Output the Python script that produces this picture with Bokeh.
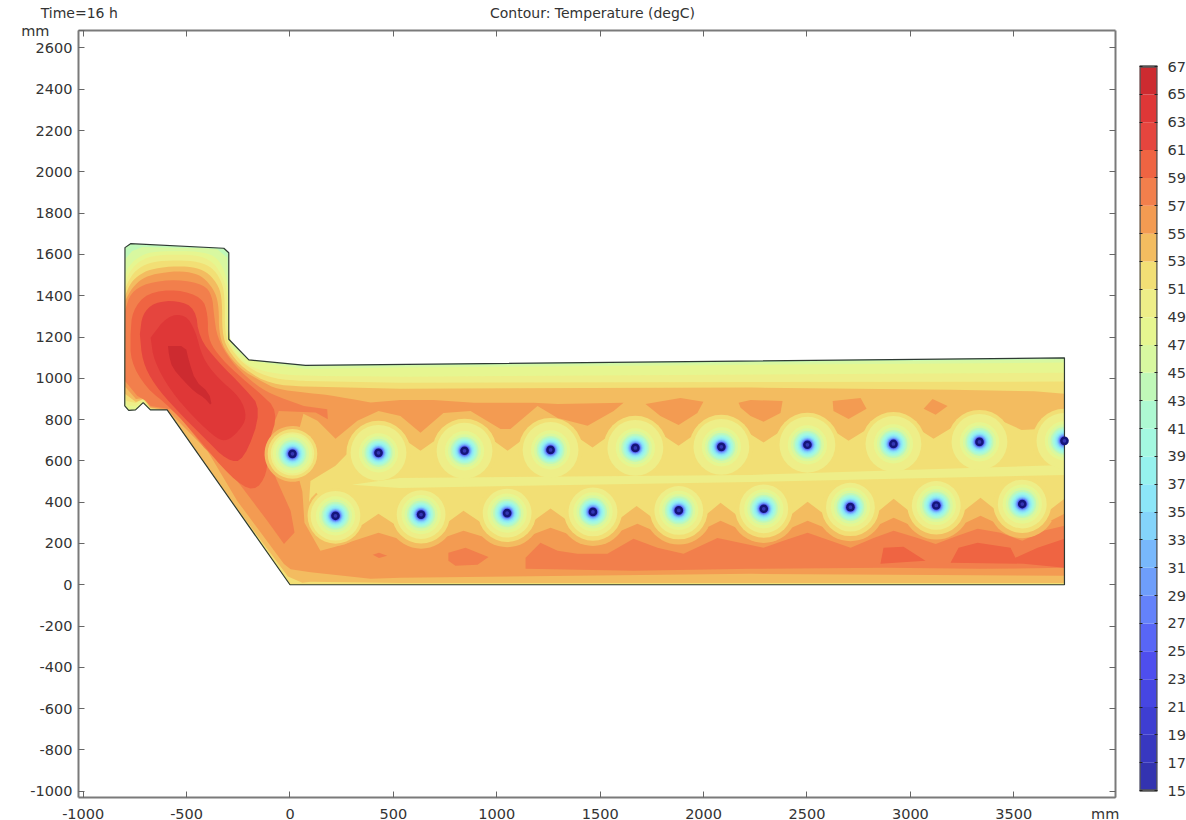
from bokeh.plotting import figure
from bokeh.layouts import row
from bokeh.models import LinearAxis, FixedTicker
from bokeh.embed import file_html
from bokeh.resources import INLINE
import math

# ---------- axis and colour-bar values ----------
X_TICKS = [-1000, -500, 0, 500, 1000, 1500, 2000, 2500, 3000, 3500]
Y_TICKS = [-1000, -800, -600, -400, -200, 0, 200, 400, 600, 800, 1000, 1200, 1400, 1600, 1800, 2000, 2200, 2400, 2600]
BAR_TICKS = list(range(15, 68, 2))
BAND_LOW = list(range(15, 67, 2))
BAND_COLOR = ["#3333B0", "#3838C0", "#3E3ED2", "#4646E2", "#4E4EEE", "#5866F6", "#6482FA", "#6E9EFB",
              "#78B8FC", "#84D4FA", "#8CE6F8", "#96F2EE", "#A4F8E0", "#AEF9D2", "#C0F8B8", "#D8F8A0",
              "#E6F690", "#EEEE88", "#F2DF75", "#F3BC60", "#F39B52", "#F27F4C", "#EF6442", "#E5453E",
              "#DF3737", "#CD2B30"]
UNIT = "mm"
TIME_TEXT = "Time=16 h"
TITLE_TEXT = "Contour: Temperature (degC)"

# ---------- geometry (mm) ----------
DOMAIN = [(-798, 1633), (-771, 1652), (-320, 1630), (-296, 1608), (-296, 1189), (-199, 1089), (75, 1063),
          (3745, 1099), (3745, 0), (0, 0), (-594, 847), (-675, 847), (-710, 882), (-747, 847), (-780, 845), (-799, 866)]

# pipes
TOP_X = [12, 428, 844, 1260, 1670, 2086, 2502, 2918, 3334, 3745]
TOP_Y = [634, 639, 649, 653, 663, 668, 678, 682, 692, 697]
BOT_X = [220, 634, 1050, 1465, 1880, 2291, 2710, 3125, 3541]
BOT_Y = [334, 340, 347, 353, 360, 368, 376, 384, 391]

# temperature regions: each list is the region at or above the named degC
T45 = [(-798, 1576), (-763, 1617), (-714, 1636), (-416, 1630), (-352, 1625), (-303, 1584), (-296, 1189), (-199, 1089),
       (75, 1058), (3745, 1092), (3745, 0), (0, 0), (-594, 847), (-675, 847), (-710, 882), (-747, 847), (-780, 845), (-799, 866)]
T47 = [(-798, 1504), (-779, 1544), (-739, 1584), (-674, 1613), (-545, 1617), (-416, 1612), (-352, 1584), (-316, 1520),
       (-298, 1439), (-297, 1189), (-255, 1125), (-190, 1082), (75, 1045), (534, 1052), (3745, 1076), (3745, 0), (0, 0),
       (-594, 847), (-675, 847), (-710, 882), (-747, 847), (-780, 845), (-799, 866)]
T49 = [(-798, 1455), (-779, 1512), (-739, 1560), (-674, 1593), (-545, 1601), (-432, 1593), (-368, 1560), (-328, 1496),
       (-303, 1423), (-303, 1205), (-271, 1125), (-190, 1052), (-62, 1020), (75, 1012), (534, 1008), (3745, 1027),
       (3745, 0), (0, 0), (-594, 847), (-675, 850), (-710, 890), (-745, 865), (-785, 870), (-799, 900)]
T51 = [(-798, 1431), (-774, 1488), (-731, 1536), (-666, 1565), (-545, 1573), (-440, 1565), (-376, 1536), (-336, 1480),
       (-315, 1407), (-315, 1213), (-287, 1141), (-207, 1052), (-78, 996), (75, 987), (534, 979), (2230, 982), (3745, 984),
       (3745, 0), (0, 0), (-594, 847), (-675, 855), (-710, 900), (-745, 880), (-790, 890), (-798, 920)]
T53 = [(-798, 1399), (-771, 1463), (-722, 1507), (-658, 1533), (-545, 1544), (-448, 1536), (-392, 1507), (-344, 1447),
       (-328, 1375), (-328, 1221), (-303, 1141), (-223, 1044), (-94, 971), (75, 960), (534, 950), (2230, 955), (3200, 945),
       (3600, 937), (3745, 925), (3745, 760), (3537, 750), (3334, 842), (3112, 707), (2918, 832), (2701, 697), (2502, 828),
       (2290, 689), (2086, 818), (1879, 673), (1670, 813), (1463, 665), (1260, 803), (1052, 649), (844, 799), (631, 649),
       (428, 789), (220, 576), (99, 503), (89, 358), (123, 237), (220, 204), (428, 344), (634, 210), (839, 358), (1050, 217),
       (1260, 369), (1465, 223), (1676, 382), (1880, 230), (2082, 397), (2291, 238), (2503, 402), (2710, 246), (2919, 416),
       (3125, 254), (3339, 421), (3541, 261), (3745, 416), (3745, 8), (534, 8), (100, 15), (60, 10), (-10, 40), (-305, 435),
       (-594, 847), (-675, 855), (-708, 900), (-745, 885), (-798, 925)]
T55 = [(-798, 1375), (-763, 1439), (-714, 1484), (-650, 1507), (-545, 1520), (-457, 1509), (-408, 1480), (-360, 1415),
       (-344, 1342), (-344, 1230), (-320, 1141), (-239, 1044), (-142, 987), (-62, 947), (67, 931), (180, 920), (390, 883),
       (534, 895), (694, 895), (889, 881), (1178, 881), (1294, 876), (1613, 881), (1565, 842), (1439, 770), (1294, 808),
       (1197, 866), (1066, 755), (1018, 755), (873, 842), (742, 832), (631, 736), (534, 818), (428, 842), (326, 794),
       (220, 707), (133, 794), (65, 828), (12, 634), (60, 450), (70, 300), (147, 165), (220, 184), (428, 252), (634, 190),
       (839, 261), (1050, 197), (1260, 276), (1465, 203), (1680, 295), (1880, 210), (2082, 310), (2291, 218), (2503, 310),
       (2710, 226), (2919, 324), (3125, 234), (3339, 334), (3541, 241), (3745, 344), (3745, 44), (2230, 53), (534, 34),
       (390, 29), (100, 60), (3, 75), (-29, 100), (-255, 406), (-400, 650), (-594, 847), (-675, 860), (-705, 905),
       (-745, 900), (-798, 960)]
T55_ISLE_A = [(1719, 876), (1888, 905), (1999, 886), (1970, 832), (1879, 774), (1791, 818)]
T55_ISLE_B = [(2169, 881), (2227, 895), (2382, 890), (2372, 832), (2290, 789), (2227, 818), (2179, 857)]
T55_ISLE_C = [(2624, 890), (2759, 905), (2788, 852), (2701, 803), (2628, 842)]
T55_ISLE_D = [(3064, 852), (3107, 900), (3180, 866), (3122, 823)]
T57 = [(-798, 1326), (-771, 1415), (-690, 1463), (-545, 1480), (-416, 1455), (-376, 1399), (-368, 1310), (-352, 1197),
       (-287, 1084), (-190, 987), (-94, 923), (67, 866), (180, 850), (183, 802), (124, 834), (-54, 842), (-86, 762),
       (-118, 633), (-62, 503), (3, 358), (22, 253), (-29, 197), (-110, 310), (-255, 503), (-416, 665), (-529, 810),
       (-577, 850), (-674, 866), (-698, 891), (-739, 915), (-798, 987)]
T57_LOW = [(1139, 131), (1211, 203), (1294, 165), (1390, 150), (1535, 150), (1661, 223), (1777, 179), (1903, 150),
           (2067, 227), (2290, 179), (2386, 213), (2503, 252), (2614, 213), (2711, 179), (2822, 227), (2919, 261),
           (3035, 227), (3122, 198), (3228, 237), (3325, 271), (3436, 252), (3541, 213), (3643, 261), (3745, 286),
           (3745, 82), (3339, 77), (2880, 82), (2230, 77), (1661, 68), (1139, 77)]
T57_ISLE_A = [(766, 155), (849, 179), (960, 135), (907, 97), (800, 92), (766, 116)]
T57_ISLE_B = [(400, 145), (430, 155), (470, 140), (430, 130)]
T59 = [(-771, 1213), (-763, 1326), (-690, 1415), (-545, 1431), (-424, 1391), (-397, 1310), (-397, 1197), (-352, 1117),
       (-255, 1020), (-158, 939), (-54, 842), (-110, 665), (-110, 536), (-174, 447), (-287, 520), (-448, 713), (-577, 858),
       (-698, 955), (-771, 1084)]
T59_LOW_A = [(2855, 102), (2870, 179), (2967, 184), (3073, 116)]
T59_LOW_B = [(3194, 106), (3233, 179), (3325, 203), (3484, 179), (3508, 131), (3615, 179), (3745, 223), (3745, 82), (3547, 102)]
T61 = [(-726, 1213), (-714, 1310), (-658, 1367), (-545, 1378), (-457, 1339), (-440, 1197), (-352, 1084), (-223, 955),
       (-134, 850), (-223, 600), (-303, 600), (-416, 713), (-545, 842), (-658, 971), (-714, 1084)]
T63 = [(-674, 1197), (-594, 1302), (-505, 1310), (-457, 1230), (-424, 1100), (-352, 1004), (-239, 907), (-207, 810),
       (-247, 745), (-303, 697), (-352, 705), (-465, 810), (-577, 939), (-658, 1084)]
T65 = [(-590, 1157), (-505, 1157), (-489, 1084), (-457, 987), (-392, 931), (-376, 862), (-416, 907), (-457, 931),
       (-513, 987), (-569, 1052), (-585, 1109)]
PALE_BAND = [(300, 485), (530, 517), (2230, 532), (3745, 580), (3745, 532), (2230, 498), (530, 469)]

# pipe halos: radius (mm) of each isotherm around a pipe
TOP_RING_51, TOP_RING_49 = 155, 135
BOT_RING_53, BOT_RING_51, BOT_RING_49 = 165, 140, 118
FIRST_TOP_RINGS = {53: 135, 51: 120, 49: 105}
FIRST_BOT_RINGS = {53: 145, 51: 135, 49: 120}
INNER_T = [47, 45, 43, 41, 39, 37, 35, 33, 31, 29, 27, 25]
INNER_R = [95, 80, 68, 60, 54, 48, 42, 37, 33, 29, 26, 24]
PIPE_RING_R = 21
PIPE_CORE_R = 9

# number of leading outline points of each region that form the curved arc round the hot block
ARC_LEN = {"T47": 13, "T49": 15, "T51": 14, "T53": 14, "T55": 17, "T57": 12}


def color(t):
    return BAND_COLOR[BAND_LOW.index(t)]


def xs(poly):
    return [a for a, _ in poly]


def ys(poly):
    return [b for _, b in poly]


def round_open(pts, passes=2):
    for _ in range(passes):
        out = [pts[0]]
        for a, b in zip(pts[:-1], pts[1:]):
            out.append((0.75 * a[0] + 0.25 * b[0], 0.75 * a[1] + 0.25 * b[1]))
            out.append((0.25 * a[0] + 0.75 * b[0], 0.25 * a[1] + 0.75 * b[1]))
        out.append(pts[-1])
        pts = out
    return pts


def round_arc(poly, n):
    return round_open(poly[:n]) + poly[n:]


def round_closed(poly, passes=2):
    return round_open(poly + poly[:1], passes)


p = figure(frame_width=1037, frame_height=767, x_range=(-1022.7, 3991.8), y_range=(-1030.5, 2684.7),
           toolbar_location=None, output_backend="svg", x_axis_location=None, y_axis_location=None,
           min_border_left=78, min_border_right=13, min_border_top=30, min_border_bottom=23,
           background_fill_color="white", border_fill_color="white")
p.grid.visible = False
p.outline_line_color = None

AXIS_GRAY = "#7A7A7A"
TEXT = "#333333"
FONT_SIZE = "14.5px"
NBSP = "\u00a0"


def make_axis(ticks, labels, standoff, tick_in=6, line=True, size=FONT_SIZE):
    ax = LinearAxis(ticker=FixedTicker(ticks=ticks))
    ax.major_label_overrides = dict(zip(ticks, labels))
    ax.major_tick_in = tick_in
    ax.major_tick_out = 0
    ax.minor_tick_in = 0
    ax.minor_tick_out = 0
    ax.major_tick_line_color = "#666666" if tick_in else None
    ax.major_tick_line_width = 1
    ax.axis_line_color = AXIS_GRAY if line else None
    ax.axis_line_width = 2
    ax.major_label_text_font = "DejaVu Sans"
    ax.major_label_text_font_size = size
    ax.major_label_text_color = TEXT
    ax.major_label_standoff = standoff
    return ax


p.add_layout(make_axis(X_TICKS + [3991], [str(t) for t in X_TICKS] + [UNIT + NBSP * 2], 8), "below")
p.add_layout(make_axis(Y_TICKS + [2684], [str(t) for t in Y_TICKS] + [UNIT + NBSP * 5], 6), "left")
p.add_layout(make_axis(Y_TICKS, [""] * len(Y_TICKS), 0), "right")
p.add_layout(make_axis(X_TICKS, [""] * len(X_TICKS), 0), "above")
p.add_layout(make_axis([-1019, 1463], [TIME_TEXT, TITLE_TEXT], 10, tick_in=0, line=False, size="14px"), "above")


def fill(poly, t):
    p.patch(xs(poly), ys(poly), fill_color=color(t), line_color=None)


fill(DOMAIN, 43)
for poly, t in [(T45, 45), (round_arc(T47, ARC_LEN["T47"]), 47), (round_arc(T49, ARC_LEN["T49"]), 49),
                (round_arc(T51, ARC_LEN["T51"]), 51), (round_arc(T53, ARC_LEN["T53"]), 53),
                (round_arc(T55, ARC_LEN["T55"]), 55), (T55_ISLE_A, 55), (T55_ISLE_B, 55),
                (T55_ISLE_C, 55), (T55_ISLE_D, 55), (round_arc(T57, ARC_LEN["T57"]), 57), (T57_LOW, 57),
                (T57_ISLE_A, 57), (T57_ISLE_B, 57), (round_closed(T59), 59), (T59_LOW_A, 59), (T59_LOW_B, 59),
                (round_closed(T61), 61), (round_closed(T63), 63), (round_closed(T65, 1), 65)]:
    fill(poly, t)

# halos: lower part of the 53 degC ring under the bottom row, then the closed rings
p.wedge(BOT_X[1:], BOT_Y[1:], radius=BOT_RING_53, start_angle=math.radians(210), end_angle=math.radians(330),
        fill_color=color(53), line_color=None)
p.wedge(TOP_X[:1], TOP_Y[:1], radius=FIRST_TOP_RINGS[53], start_angle=math.radians(60), end_angle=math.radians(290),
        fill_color=color(53), line_color=None)
p.wedge(BOT_X[:1], BOT_Y[:1], radius=FIRST_BOT_RINGS[53], start_angle=math.radians(130), end_angle=math.radians(340),
        fill_color=color(53), line_color=None)

LAST_X, LAST_Y = TOP_X[-1:], TOP_Y[-1:]


def half(radius, t):
    p.wedge(LAST_X, LAST_Y, radius=radius, start_angle=math.radians(90), end_angle=math.radians(270),
            fill_color=color(t), line_color=None)


p.circle(TOP_X[1:-1], TOP_Y[1:-1], radius=TOP_RING_51, fill_color=color(51), line_color=None)
half(TOP_RING_51, 51)
p.circle(BOT_X[1:], BOT_Y[1:], radius=BOT_RING_51, fill_color=color(51), line_color=None)
p.circle(TOP_X[:1], TOP_Y[:1], radius=FIRST_TOP_RINGS[51], fill_color=color(51), line_color=None)
p.circle(BOT_X[:1], BOT_Y[:1], radius=FIRST_BOT_RINGS[51], fill_color=color(51), line_color=None)

fill(PALE_BAND, 49)

p.circle(TOP_X[1:-1], TOP_Y[1:-1], radius=TOP_RING_49, fill_color=color(49), line_color=None)
half(TOP_RING_49, 49)
p.circle(BOT_X[1:], BOT_Y[1:], radius=BOT_RING_49, fill_color=color(49), line_color=None)
p.circle(TOP_X[:1], TOP_Y[:1], radius=FIRST_TOP_RINGS[49], fill_color=color(49), line_color=None)
p.circle(BOT_X[:1], BOT_Y[:1], radius=FIRST_BOT_RINGS[49], fill_color=color(49), line_color=None)

for t, r in zip(INNER_T, INNER_R):
    p.circle(TOP_X[:-1] + BOT_X, TOP_Y[:-1] + BOT_Y, radius=r, fill_color=color(t), line_color=None)
    half(r, t)

p.patch(xs(DOMAIN), ys(DOMAIN), fill_color=None, line_color="#2F3A33", line_width=1.2)

p.circle(TOP_X + BOT_X, TOP_Y + BOT_Y, radius=PIPE_RING_R, fill_color="#15157A", line_color=None)
p.circle(TOP_X + BOT_X, TOP_Y + BOT_Y, radius=PIPE_CORE_R, fill_color="#3535B5", line_color=None)

# ---------- colour bar (its frame lines up with the plot's; 15..67 fills only part of it) ----------
cb = figure(frame_width=18, frame_height=767, x_range=(0, 1), y_range=(14.5, 69.59), toolbar_location=None,
            output_backend="svg", x_axis_location=None, y_axis_location=None,
            min_border_left=11, min_border_right=29, min_border_top=30, min_border_bottom=23,
            background_fill_color="white", border_fill_color="white")
cb.grid.visible = False
cb.outline_line_color = None
cb.quad(left=0, right=1, bottom=BAND_LOW, top=[b + 2 for b in BAND_LOW], fill_color=BAND_COLOR, line_color=None)
cb.quad(left=[0], right=[1], bottom=[BAR_TICKS[0]], top=[BAR_TICKS[-1]], fill_color=None, line_color="#555555", line_width=2.5)


def bar_axis(labelled):
    ax = LinearAxis(ticker=FixedTicker(ticks=BAR_TICKS))
    ax.major_label_overrides = {t: (str(t) if labelled else "") for t in BAR_TICKS}
    ax.major_tick_in = 3
    ax.major_tick_out = 0
    ax.minor_tick_in = 0
    ax.minor_tick_out = 0
    ax.major_tick_line_color = "#222222"
    ax.axis_line_color = None
    ax.major_label_text_font = "DejaVu Sans"
    ax.major_label_text_font_size = FONT_SIZE
    ax.major_label_text_color = TEXT
    ax.major_label_standoff = 10 if labelled else 0
    return ax


cb.add_layout(bar_axis(True), "right")
cb.add_layout(bar_axis(False), "left")

page = row(p, cb, spacing=0)

open("out.html", "w").write(file_html(page, INLINE))
